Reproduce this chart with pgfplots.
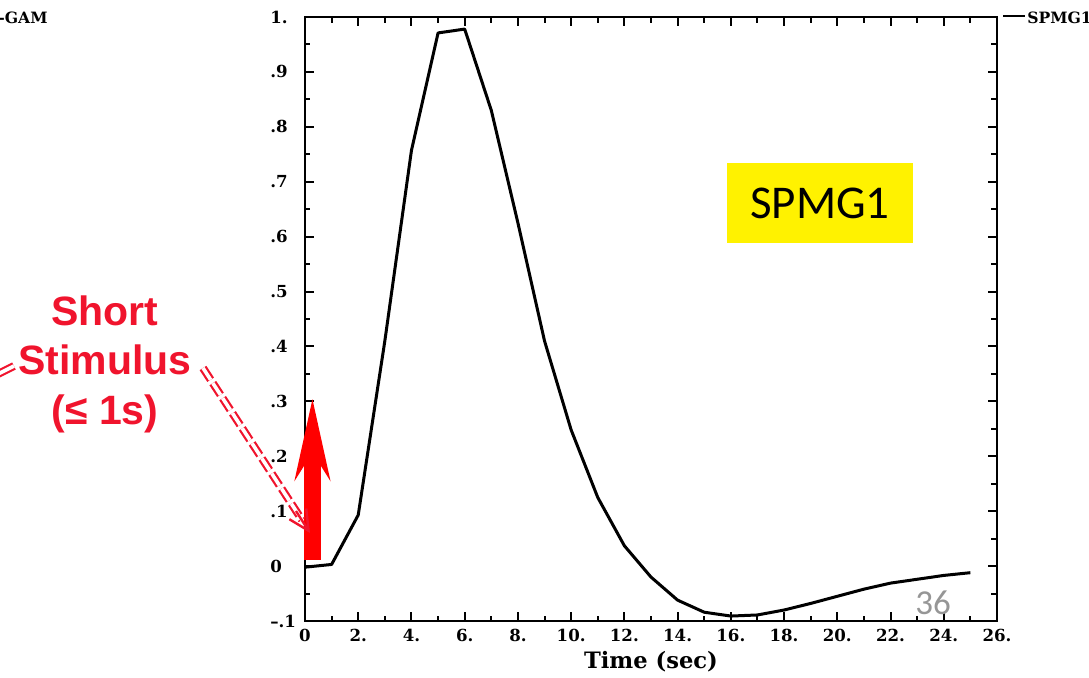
\documentclass[border=0pt]{standalone}
\usepackage{pgfplots}
\pgfplotsset{compat=1.18}
\usetikzlibrary{arrows.meta}
\usepackage{fontspec}
\setmainfont{DejaVu Serif}
\newfontfamily\lib{Liberation Sans}
\newfontfamily\carl{Carlito}
\definecolor{stimred}{RGB}{240,20,45}
\definecolor{pgnum}{RGB}{150,150,150}

\begin{document}
\begin{tikzpicture}
\begin{axis}[
  scale only axis, width=346pt, height=302pt,
  xmin=0, xmax=26, ymin=-0.1, ymax=1,
  xtick={0,2,4,6,8,10,12,14,16,18,20,22,24,26},
  xticklabels={0,2.,4.,6.,8.,10.,12.,14.,16.,18.,20.,22.,24.,26.},
  ytick={-0.1,0,0.1,0.2,0.3,0.4,0.5,0.6,0.7,0.8,0.9,1},
  yticklabels={\textendash.1,0,.1,.2,.3,.4,.5,.6,.7,.8,.9,1.},
  minor x tick num=1, minor y tick num=1,
  tick align=inside, major tick length=4.5pt, minor tick length=2.75pt,
  axis line style={line width=1pt},
  every tick/.style={line width=1pt, black},
  ticklabel style={font=\bfseries\fontsize{8.3}{9}\selectfont},
  yticklabel style={anchor=west, inner sep=0pt, xshift=-17.5pt},
  xticklabel style={inner sep=0pt, yshift=-4pt},
  xlabel={Time (sec)},
  xlabel style={font=\bfseries\fontsize{11.3}{13}\selectfont, yshift=-1pt},
  clip=false,
]
\draw[red, line width=8.5pt, -{Stealth[length=40pt, width=17pt]}] (axis cs:0.28,0.011) -- (axis cs:0.28,0.306);
\addplot[black, line width=1.5pt, line join=round] coordinates {
(0,-0.002) (1,0.003) (2,0.093) (3,0.41) (4,0.757) (5,0.971) (6,0.978)
(7,0.83) (8,0.625) (9,0.41) (10,0.248) (11,0.125) (12,0.037) (13,-0.02)
(14,-0.062) (15,-0.084) (16,-0.091) (17,-0.089) (18,-0.080) (19,-0.068)
(20,-0.055) (21,-0.042) (22,-0.031) (23,-0.024) (24,-0.017) (25,-0.012)
};
\end{axis}
\begin{scope}[x=0.5pt, y=-0.5pt, shift={(-152.5pt,310.5pt)}]
  \node[align=center, text=stimred, font=\lib\bfseries\fontsize{20.5}{24.75}\selectfont] at (105,364) {Short\\Stimulus\\(≤ 1s)};
  \draw[stimred, line width=1.1pt, double=white, double distance=1.8pt, dash pattern=on 7pt off 2pt] (203,368) -- (302,520);
  \draw[stimred, line width=1.2pt, -{Straight Barb[length=10pt,width=10pt]}] (296,511) -- (310,533);
  \draw[stimred, line width=1.1pt, double=white, double distance=1.8pt] (14,366) -- (-6,376);
  \node[fill=yellow, minimum width=93pt, minimum height=40pt, inner sep=0pt, font=\carl\fontsize{23.5}{28}\selectfont] at (820,203) {SPMG1};
  \node[text=pgnum, font=\carl\fontsize{17.5}{20}\selectfont] at (933,603) {36};
  \node[anchor=west, inner sep=0pt, font=\bfseries\fontsize{7.8}{9}\selectfont] at (-2,18) {-GAM};
  \draw[line width=1pt] (1003,16) -- (1025,16);
  \node[anchor=west, inner sep=0pt, font=\bfseries\fontsize{7.8}{9}\selectfont] at (1027,18) {SPMG1};
  \pgfresetboundingbox
  \path[use as bounding box] (0,0) rectangle (1089,677);
\end{scope}
\end{tikzpicture}
\end{document}
